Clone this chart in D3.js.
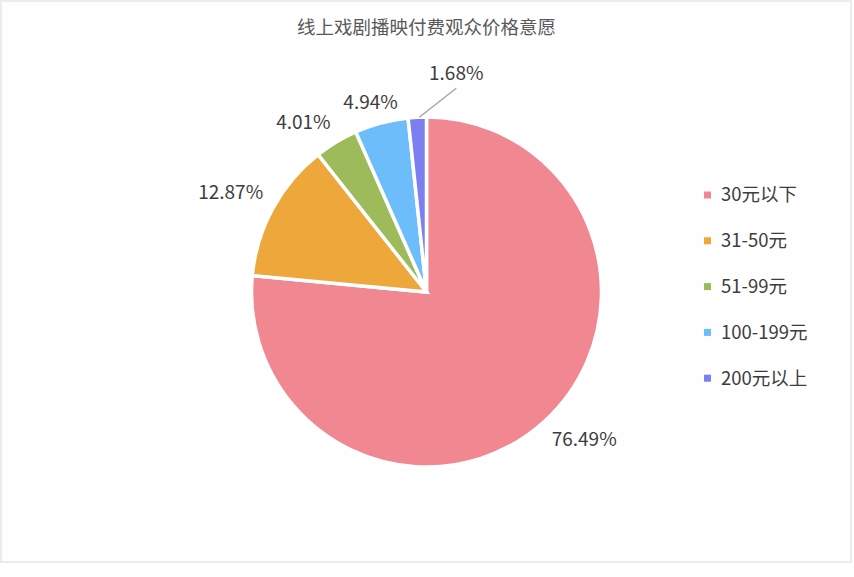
<!DOCTYPE html>
<html>
<head>
<meta charset="utf-8">
<script src="https://cdn.jsdelivr.net/npm/d3@7"></script>
<style>
  body { margin: 0; background: #fff; }
  text { font-family: "Noto Sans CJK SC", "Noto Sans", sans-serif; }
</style>
</head>
<body>
<div class="graph"></div>
<script>
// chart data
var title = "线上戏剧播映付费观众价格意愿";
var categories = ["30元以下", "31-50元", "51-99元", "100-199元", "200元以上"];
var values = [76.49, 12.87, 4.01, 4.94, 1.68];
var colors = ["#f08791", "#eda73b", "#9dbb5b", "#6dbdfb", "#7c7ff0"];

var text_color = "#3d3d3d";

function createGraph() {
    var svgWidth = 854, svgHeight = 577;
    var cx = 426.5, cy = 292, radius = 175;

    var svg = d3.select("div.graph").append("svg")
        .attr("width", svgWidth)
        .attr("height", svgHeight);

    // light frame around the chart area
    svg.append("rect")
        .attr("x", 1).attr("y", 1)
        .attr("width", 850).attr("height", 561)
        .attr("fill", "#fefefe")
        .attr("stroke", "#ececec")
        .attr("stroke-width", 2);

    svg.append("text")
        .attr("x", cx)
        .attr("y", 28)
        .attr("dy", "0.35em")
        .attr("text-anchor", "middle")
        .attr("font-size", 18.5)
        .attr("fill", "#595959")
        .text(title);

    var data = categories.map(function (c, i) {
        return {name: c, value: values[i], color: colors[i]};
    });

    var pie = d3.pie()
        .sort(null)
        .value(function (d) { return d.value; });

    var arc = d3.arc().innerRadius(0).outerRadius(radius);

    var g = svg.append("g")
        .attr("transform", "translate(" + cx + "," + cy + ")");

    var arcs = pie(data);

    g.selectAll("path.slice")
        .data(arcs)
        .enter().append("path")
        .attr("class", "slice")
        .attr("d", arc)
        .attr("fill", function (d) { return d.data.color; })
        .attr("stroke", "#fff")
        .attr("stroke-width", 3.5)
        .attr("stroke-linejoin", "miter");

    // data labels: the label box corner nearest the pie sits just outside it
    var labelR = radius + 11;
    var fs = 19;
    arcs.forEach(function (d) {
        var a = (d.startAngle + d.endAngle) / 2;
        var s = Math.sin(a), c = Math.cos(a);
        var x = labelR * s, y = -labelR * c;
        var anchor = s > 0.3 ? "start" : (s < -0.3 ? "end" : "middle");
        if (anchor === "middle") x -= 8;
        // box above the point for upper half, below for lower half
        y += c > 0 ? -fs * 0.55 : fs * 0.5;
        if (d.data.value < 2) {
            // tiny slice: pull label aside with a leader line
            var p0 = [radius * s + 2, -radius * c];
            var p1 = [p0[0] + 37, p0[1] - 29];
            g.append("line")
                .attr("x1", p0[0]).attr("y1", p0[1])
                .attr("x2", p1[0]).attr("y2", p1[1])
                .attr("stroke", "#a6a6a6")
                .attr("stroke-width", 1.5);
            x = p1[0];
            y = p1[1] - 15;
            anchor = "middle";
        }
        g.append("text")
            .attr("x", x)
            .attr("y", y)
            .attr("dy", "0.35em")
            .attr("text-anchor", anchor)
            .attr("font-size", fs)
            .attr("fill", text_color)
            .text(d.data.value.toFixed(2) + "%");
    });

    // legend
    var legend = svg.append("g")
        .attr("transform", "translate(704,195)");
    var rows = legend.selectAll("g.row")
        .data(data)
        .enter().append("g")
        .attr("class", "row")
        .attr("transform", function (d, i) { return "translate(0," + (i * 45.8) + ")"; });
    rows.append("rect")
        .attr("x", 0).attr("y", -3.5)
        .attr("width", 7).attr("height", 7)
        .attr("fill", function (d) { return d.color; });
    rows.append("text")
        .attr("x", 17)
        .attr("y", 0)
        .attr("dy", "0.35em")
        .attr("font-size", 18.5)
        .attr("fill", text_color)
        .text(function (d) { return d.name; });
}

createGraph();
</script>
</body>
</html>
